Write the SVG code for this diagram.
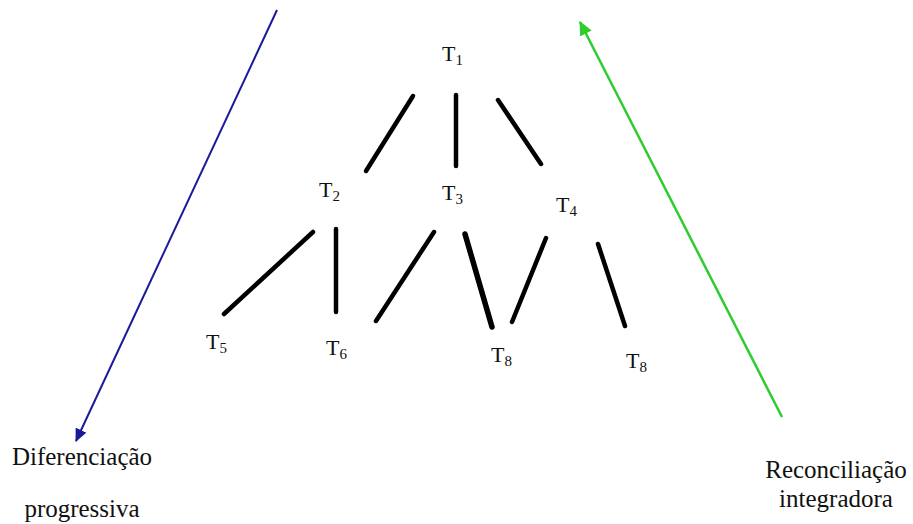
<svg xmlns="http://www.w3.org/2000/svg" width="913" height="524" viewBox="0 0 913 524">
<style>
.t{font-family:"Liberation Serif","Times New Roman",serif;font-size:22px;fill:#111}
.s{font-size:15px}
.lbl{font-family:"Liberation Serif","Times New Roman",serif;font-size:25px;fill:#111;text-anchor:middle}
.e{stroke:#000;stroke-width:4.5;stroke-linecap:round;fill:none}
</style>
<defs>
<marker id="hb" markerWidth="13" markerHeight="12" refX="12" refY="6" orient="auto" markerUnits="userSpaceOnUse" viewBox="0 0 13 12"><path d="M0,0 L13,6 L0,12 z" fill="#1a1a99"/></marker>
<marker id="hg" markerWidth="14" markerHeight="13" refX="13" refY="6.5" orient="auto" markerUnits="userSpaceOnUse" viewBox="0 0 14 13"><path d="M0,0 L14,6.5 L0,13 z" fill="#2ecc2e"/></marker>
</defs>
<rect width="913" height="524" fill="#fff"/>
<g id="connectors">
<line class="e" x1="413" y1="96" x2="366" y2="171"/>
<line class="e" x1="456" y1="95" x2="456" y2="166"/>
<line class="e" x1="498" y1="100" x2="541" y2="164"/>
<line class="e" x1="313" y1="232" x2="224" y2="314"/>
<line class="e" x1="336" y1="229" x2="336" y2="312"/>
<line class="e" x1="434" y1="232" x2="376" y2="321"/>
<line class="e" x1="465" y1="234" x2="492" y2="327" style="stroke-width:5.5"/>
<line class="e" x1="546" y1="238" x2="512" y2="322"/>
<line class="e" x1="598" y1="244" x2="625" y2="326"/>
<line x1="277" y1="10" x2="76" y2="441" stroke="#1a1a99" stroke-width="2" marker-end="url(#hb)"/>
<line x1="782" y1="417" x2="580" y2="22" stroke="#2ecc2e" stroke-width="2.5" marker-end="url(#hg)"/>
</g>
<g id="T1"><text class="t" x="442" y="61">T<tspan class="s" dy="4">1</tspan></text></g>
<g id="T2"><text class="t" x="319" y="197">T<tspan class="s" dy="4">2</tspan></text></g>
<g id="T3"><text class="t" x="442" y="200">T<tspan class="s" dy="4">3</tspan></text></g>
<g id="T4"><text class="t" x="556" y="212">T<tspan class="s" dy="4">4</tspan></text></g>
<g id="T5"><text class="t" x="206" y="349">T<tspan class="s" dy="4">5</tspan></text></g>
<g id="T6"><text class="t" x="326" y="355">T<tspan class="s" dy="4">6</tspan></text></g>
<g id="T8a"><text class="t" x="491" y="362">T<tspan class="s" dy="4">8</tspan></text></g>
<g id="T8b"><text class="t" x="626" y="368">T<tspan class="s" dy="4">8</tspan></text></g>
<g id="label-left"><text class="lbl" x="82" y="465">Diferenciação</text><text class="lbl" x="82" y="517">progressiva</text></g>
<g id="label-right"><text class="lbl" x="836" y="478">Reconciliação</text><text class="lbl" x="836" y="507">integradora</text></g>
</svg>
